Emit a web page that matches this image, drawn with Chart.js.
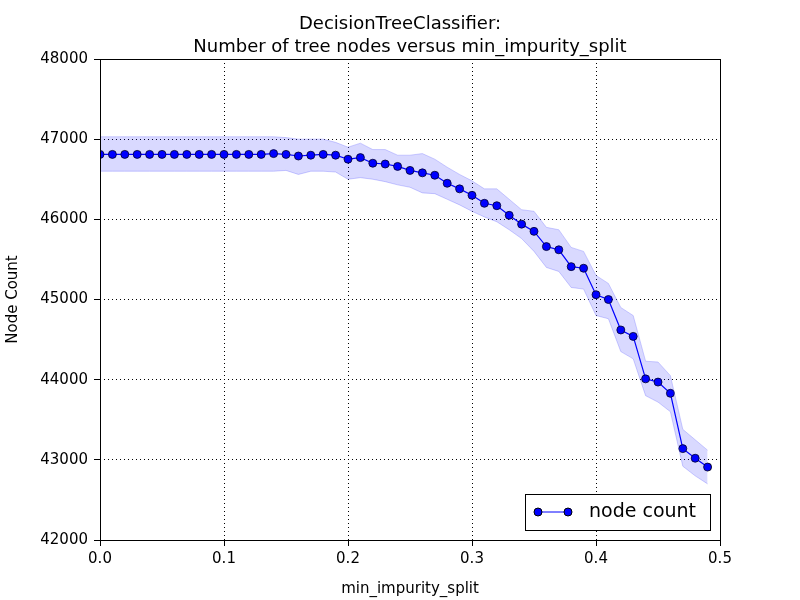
<!DOCTYPE html>
<html>
<head>
<meta charset="utf-8">
<script src="https://cdn.jsdelivr.net/npm/chart.js@4"></script>
<style>body{margin:0;background:#fff}</style>
</head>
<body>
<canvas id="myChart" width="800" height="600"></canvas>
<script>
var xValues = [0,0.01,0.02,0.03,0.04,0.05,0.06,0.07,0.08,0.09,0.1,0.11,0.12,0.13,0.14,0.15,0.16,0.17,0.18,0.19,0.2,0.21,0.22,0.23,0.24,0.25,0.26,0.27,0.28,0.29,0.3,0.31,0.32,0.33,0.34,0.35,0.36,0.37,0.38,0.39,0.4,0.41,0.42,0.43,0.44,0.45,0.46,0.47,0.48,0.49];
var nodeCount = [46810,46810,46810,46810,46810,46810,46810,46810,46810,46810,46810,46810,46810,46810,46820,46810,46790,46800,46810,46800,46750,46770,46700,46690,46660,46610,46580,46550,46450,46380,46300,46200,46170,46050,45940,45850,45660,45620,45410,45390,45060,45000,44620,44540,44010,43970,43830,43140,43020,42910];
var upperBand = [47030,47030,47030,47030,47030,47030,47030,47030,47030,47030,47030,47030,47030,47030,47030,47020,47000,47000,47000,46960,46900,46950,46870,46870,46800,46800,46820,46750,46650,46560,46480,46380,46380,46250,46120,46100,45900,45870,45650,45600,45300,45200,44900,44800,44230,44220,44050,43380,43250,43120];
var lowerBand = [46600,46600,46600,46600,46600,46600,46600,46600,46600,46600,46600,46600,46600,46600,46600,46610,46560,46600,46600,46590,46500,46520,46500,46470,46430,46400,46330,46320,46250,46180,46100,46030,45970,45870,45760,45600,45400,45350,45150,45130,44800,44760,44350,44260,43800,43720,43600,42920,42800,42700];
var xTicks = [0,0.1,0.2,0.3,0.4,0.5];
var yTicks = [42000,43000,44000,45000,46000,47000,48000];

function pts(vals) {
  return xValues.map(function(x, i) { return {x: x, y: vals[i]}; });
}

var font = "DejaVu Sans";

// title + boxed legend drawn by hand to match the matplotlib look
var decor = {
  id: "decor",
  afterDraw: function(chart) {
    var c = chart.ctx, a = chart.chartArea;
    c.save();
    c.fillStyle = "#000";
    c.textAlign = "center";
    c.font = "18px '" + font + "'";
    c.fillText("DecisionTreeClassifier:", 400, 29);
    c.fillText("Number of tree nodes versus min_impurity_split", 410, 52);
    c.strokeStyle = "#000";
    c.lineWidth = 1;
    c.strokeRect(a.left + 0.5, a.top + 0.5, a.right - a.left, a.bottom - a.top);
    // legend
    c.fillStyle = "#fff";
    c.fillRect(525, 494, 185, 36);
    c.strokeRect(525.5, 494.5, 185, 36);
    c.strokeStyle = "#0000ff";
    c.beginPath(); c.moveTo(538, 512); c.lineTo(568, 512); c.stroke();
    [538, 568].forEach(function(px) {
      c.beginPath(); c.arc(px, 512, 4, 0, Math.PI * 2);
      c.fillStyle = "#0000ff"; c.fill(); c.strokeStyle = "#000"; c.stroke();
    });
    c.fillStyle = "#000";
    c.textAlign = "left";
    c.textBaseline = "middle";
    c.font = "19px '" + font + "'";
    c.fillText("node count", 589, 512);
    c.restore();
  }
};

var gridOpts = {
  color: "#000",
  lineWidth: 1,
  drawTicks: true,
  tickLength: 6,
  tickColor: "#000"
};

new Chart(document.getElementById("myChart"), {
  type: "line",
  data: {
    datasets: [
      {
        label: "upper",
        data: pts(upperBand),
        borderColor: "rgba(120,120,255,0.35)",
        borderWidth: 1,
        backgroundColor: "rgba(0,0,255,0.15)",
        pointRadius: 0,
        fill: "+1",
        tension: 0
      },
      {
        label: "lower",
        data: pts(lowerBand),
        borderColor: "rgba(120,120,255,0.35)",
        borderWidth: 1,
        pointRadius: 0,
        fill: false,
        tension: 0
      },
      {
        label: "node count",
        data: pts(nodeCount),
        borderColor: "#0000ff",
        borderWidth: 1.2,
        backgroundColor: "#0000ff",
        pointBackgroundColor: "#0000ff",
        pointBorderColor: "#000",
        pointBorderWidth: 0.8,
        pointRadius: 4,
        fill: false,
        tension: 0
      }
    ]
  },
  options: {
    responsive: false,
    animation: false,
    layout: { padding: { top: 59, right: 80, left: 0, bottom: 0 } },
    plugins: { legend: { display: false }, title: { display: false }, tooltip: { enabled: false } },
    scales: {
      x: {
        type: "linear",
        min: 0, max: 0.5,
        afterBuildTicks: function(s) { s.ticks = xTicks.map(function(v) { return {value: v}; }); },
        afterFit: function(s) { s.height = 60; },
        grid: Object.assign({ borderDash: [1, 3] }, gridOpts),
        border: { display: false, dash: [1, 3] },
        ticks: { color: "#000", font: { family: font, size: 15 }, padding: 4, maxRotation: 0,
          callback: function(v) { return v === 0 ? "0.0" : String(v); } },
        title: { display: true, text: "min_impurity_split", color: "#000", font: { family: font, size: 15 }, padding: 2 }
      },
      y: {
        min: 42000, max: 48000,
        afterBuildTicks: function(s) { s.ticks = yTicks.map(function(v) { return {value: v}; }); },
        afterFit: function(s) { s.width = 100; },
        grid: gridOpts,
        border: { display: false, dash: [1, 3] },
        ticks: { color: "#000", font: { family: font, size: 15 }, padding: 6,
          callback: function(v) { return String(v); } },
        title: { display: true, text: "Node Count", color: "#000", font: { family: font, size: 15 }, padding: 4 }
      }
    }
  },
  plugins: [decor]
});
</script>
</body>
</html>
